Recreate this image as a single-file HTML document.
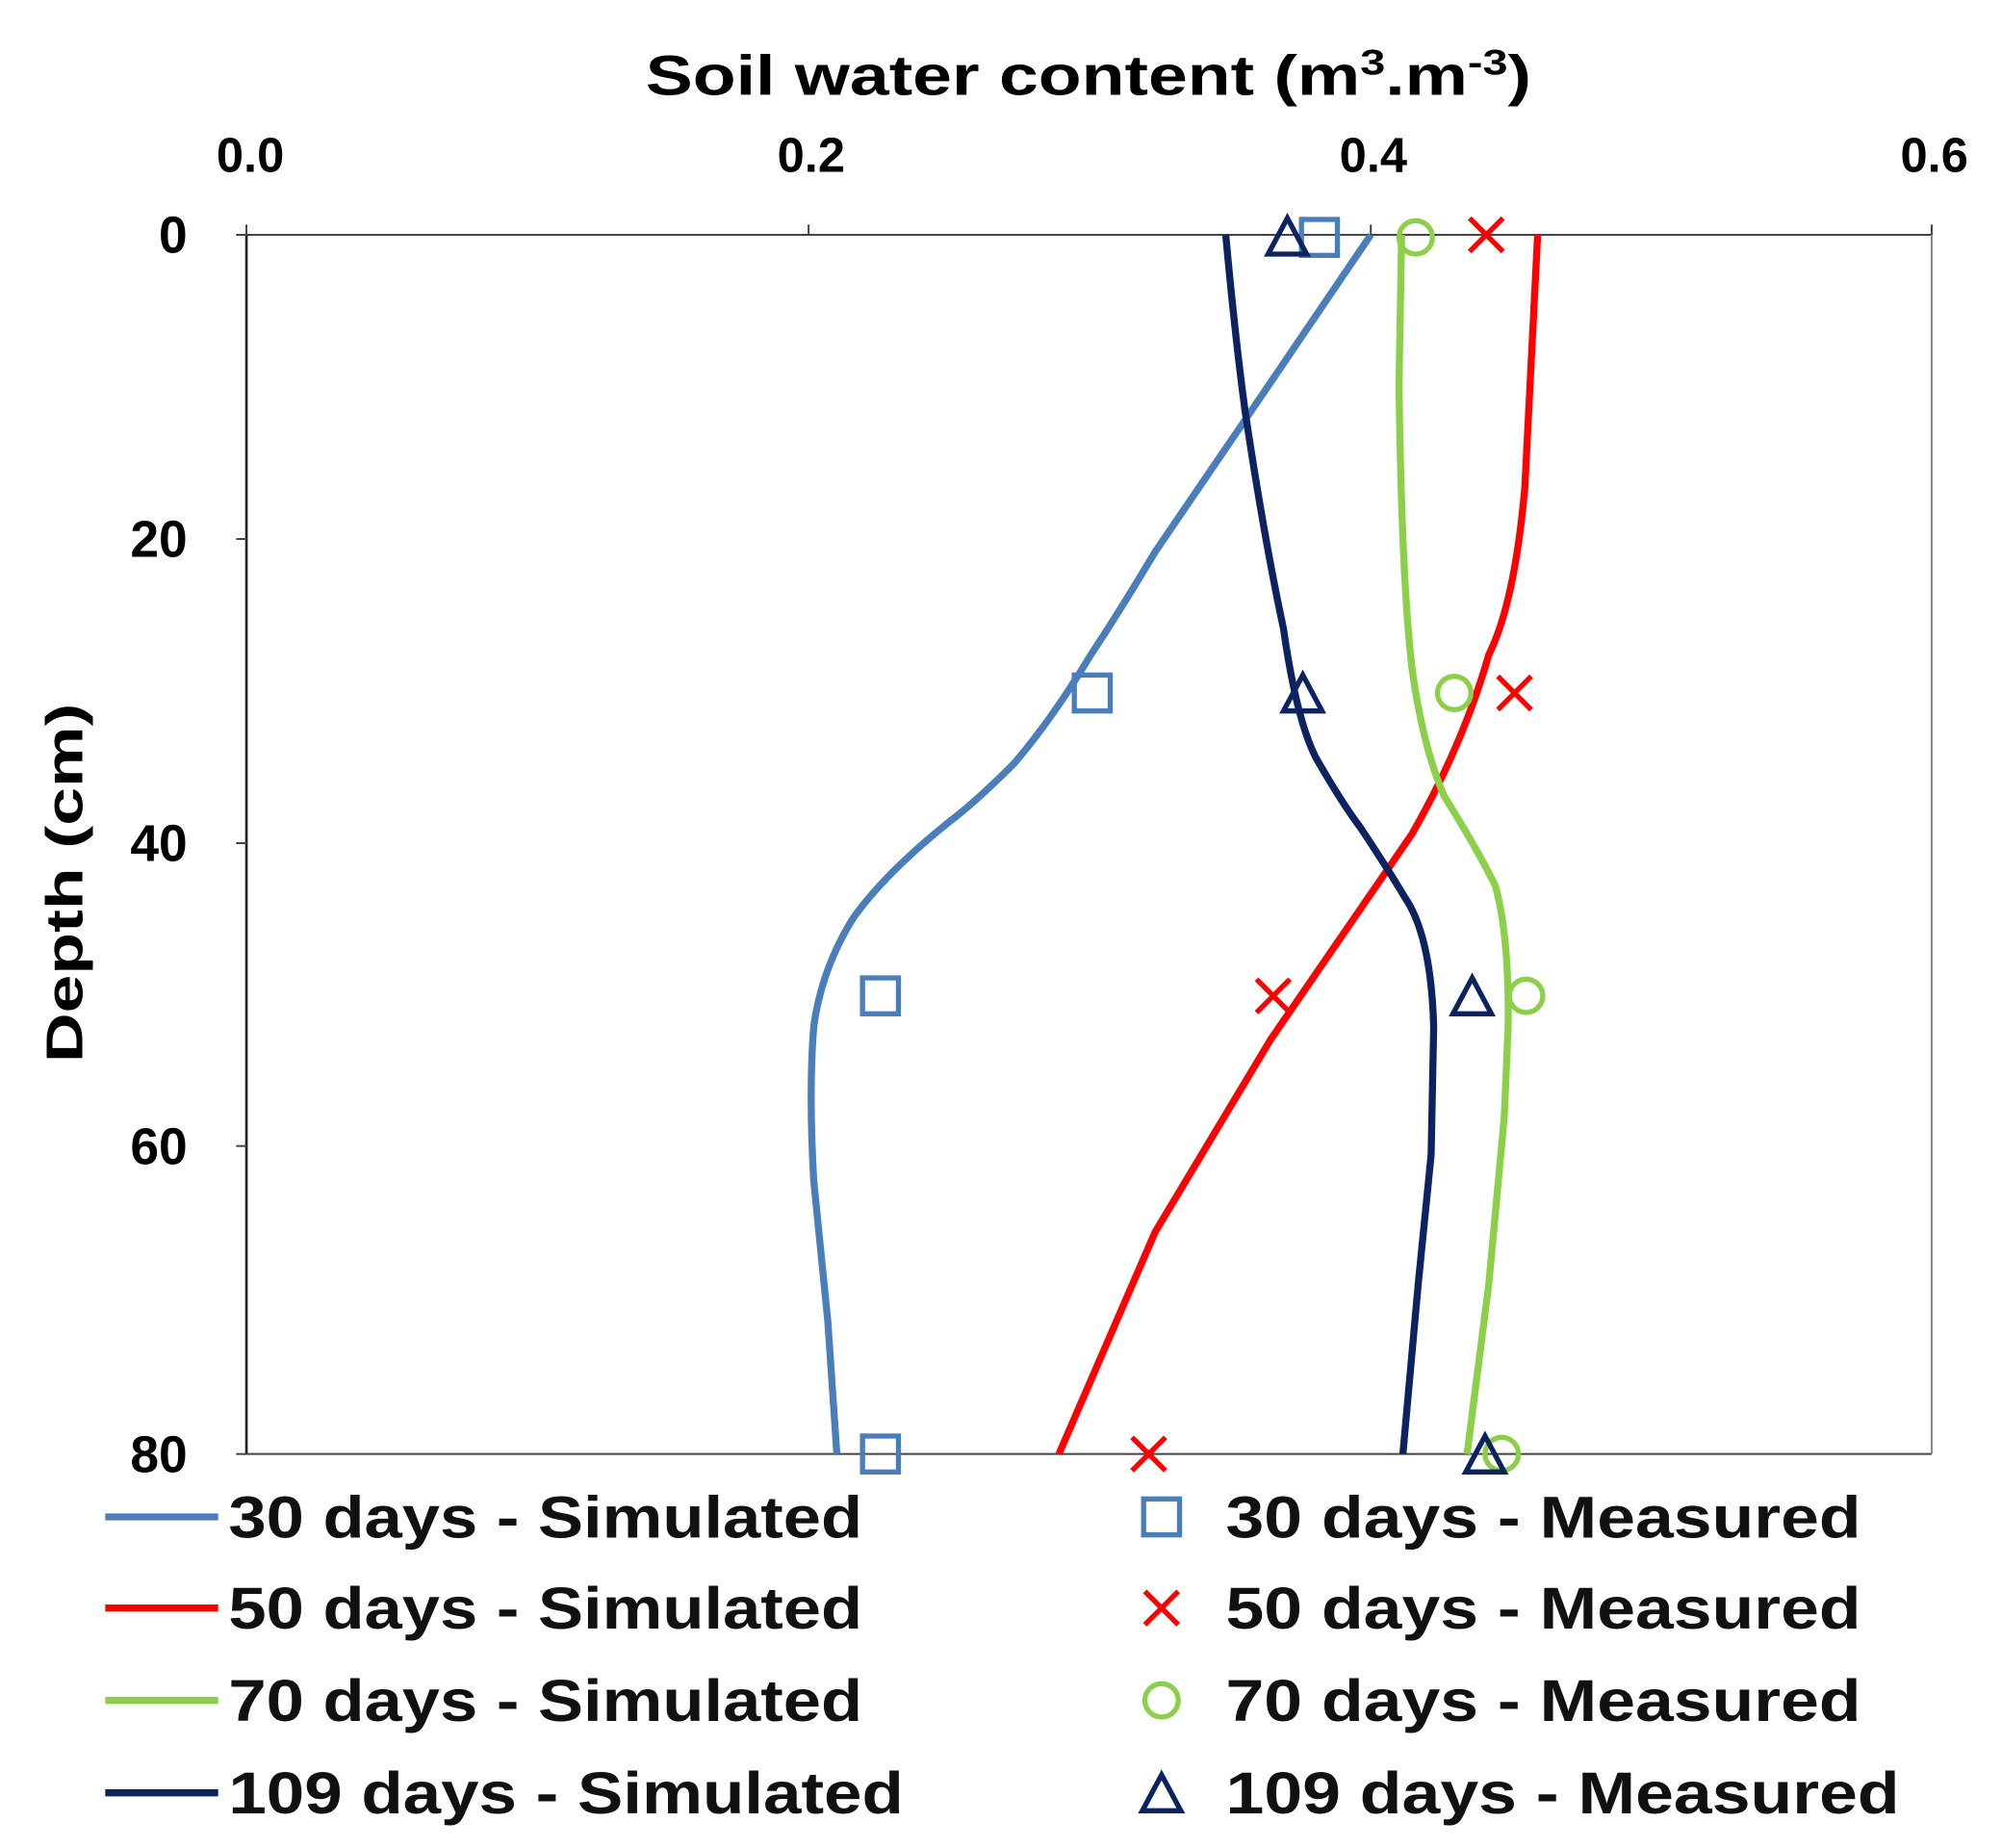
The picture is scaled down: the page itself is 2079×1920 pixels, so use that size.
<!DOCTYPE html>
<html><head><meta charset="utf-8"><style>html,body{margin:0;padding:0;background:#fff}svg{display:block}</style></head>
<body>
<svg width="2079" height="1920" viewBox="0 0 1559 1440" preserveAspectRatio="none" xmlns="http://www.w3.org/2000/svg" font-family="Liberation Sans, sans-serif">
<rect width="1559" height="1440" fill="#fff"/>
<text x="848" y="74" font-size="44" font-weight="bold" text-anchor="middle" textLength="690" lengthAdjust="spacingAndGlyphs">Soil water content (m<tspan font-size="28" dy="-16">3</tspan><tspan dy="16">.m</tspan><tspan font-size="28" dy="-16">-3</tspan><tspan dy="16">)</tspan></text>
<g font-size="38" font-weight="bold" text-anchor="middle">
<text x="195" y="134">0.0</text><text x="632" y="134">0.2</text><text x="1070" y="134">0.4</text><text x="1507" y="134">0.6</text>
</g>
<g font-size="40" font-weight="bold" text-anchor="end">
<text x="146" y="197">0</text><text x="146" y="434">20</text><text x="146" y="671">40</text><text x="146" y="907">60</text><text x="146" y="1147">80</text>
</g>
<text transform="translate(64,688) rotate(-90)" font-size="40" font-weight="bold" text-anchor="middle" textLength="280" lengthAdjust="spacingAndGlyphs">Depth (cm)</text>
<g stroke="#444" stroke-width="1.5" fill="none">
<line x1="192" y1="183" x2="1505" y2="183"/>
<line x1="192" y1="1133" x2="1505" y2="1133"/>
<line x1="192" y1="183" x2="192" y2="1133" stroke="#222" stroke-width="2"/>
<line x1="1505" y1="183" x2="1505" y2="1133" stroke="#888"/>
<line x1="192" y1="175" x2="192" y2="183"/><line x1="630" y1="175" x2="630" y2="183"/><line x1="1068" y1="175" x2="1068" y2="183"/><line x1="1505" y1="175" x2="1505" y2="183"/>
<line x1="184" y1="183" x2="192" y2="183"/><line x1="184" y1="420" x2="192" y2="420"/><line x1="184" y1="657" x2="192" y2="657"/><line x1="184" y1="893" x2="192" y2="893"/><line x1="184" y1="1133" x2="192" y2="1133"/>
</g>
<g fill="none" stroke-width="5.5" stroke-linejoin="round" stroke-linecap="butt">
<path stroke="#4a7ebb" d="M1068,183 L975,320 L900,430 Q870,480 850,510 Q820,560 790,595 Q760,625 740,640 Q690,680 665,715 Q640,755 634,800 Q630,850 634,920 L645,1030 L652,1133"/>
<path stroke="#ff0000" d="M1198,183 Q1192,300 1188,380 Q1180,470 1160,510 Q1140,580 1100,650 L990,810 L900,960 L825,1133"/>
<path stroke="#8cd04a" d="M1092,183 L1090,300 Q1092,450 1100,520 Q1108,580 1125,620 Q1150,660 1165,690 Q1176,730 1175,800 L1172,870 L1160,1000 L1143,1133"/>
<path stroke="#0d2260" d="M955,183 Q962,260 970,320 Q985,420 1000,490 Q1010,560 1025,590 Q1045,625 1060,645 Q1080,675 1095,700 Q1115,730 1117,800 L1115,900 L1105,1000 L1093,1133"/>
</g>
<g fill="none" stroke-width="4">
<g stroke="#4a7ebb">
<rect x="1014" y="171" width="28" height="28"/><rect x="837" y="526" width="28" height="28"/><rect x="672" y="762" width="28" height="28"/><rect x="672" y="1119" width="28" height="28"/>
</g>
<g stroke="#ff0000">
<path d="M1145,170 l26,26 M1171,170 l-26,26"/><path d="M1167,527 l26,26 M1193,527 l-26,26"/><path d="M979,763 l26,26 M1005,763 l-26,26"/><path d="M882,1120 l26,26 M908,1120 l-26,26"/>
</g>
<g stroke="#8cd04a">
<circle cx="1103" cy="185" r="13"/><circle cx="1133" cy="540" r="13"/><circle cx="1189" cy="776" r="13"/><circle cx="1170" cy="1133" r="13"/>
</g>
<g stroke="#0d2260">
<path d="M1003,170 l-15,28 h30 z"/><path d="M1015,526 l-15,28 h30 z"/><path d="M1147,762 l-15,28 h30 z"/><path d="M1157,1119 l-15,28 h30 z"/>
</g>
</g>
<g stroke-width="5.5">
<line x1="82" y1="1182" x2="170" y2="1182" stroke="#4a7ebb"/>
<line x1="82" y1="1253" x2="170" y2="1253" stroke="#ff0000"/>
<line x1="82" y1="1325" x2="170" y2="1325" stroke="#8cd04a"/>
<line x1="82" y1="1397" x2="170" y2="1397" stroke="#0d2260"/>
</g>
<g fill="none" stroke-width="4">
<rect x="891" y="1168" width="28" height="28" stroke="#4a7ebb"/>
<path d="M892,1240 l26,26 M918,1240 l-26,26" stroke="#ff0000"/>
<circle cx="905" cy="1325" r="13" stroke="#8cd04a"/>
<path d="M905,1383 l-15,28 h30 z" stroke="#0d2260"/>
</g>
<g font-size="46" font-weight="bold" fill="#111">
<text x="178" y="1198" textLength="494" lengthAdjust="spacingAndGlyphs">30 days - Simulated</text>
<text x="178" y="1269" textLength="494" lengthAdjust="spacingAndGlyphs">50 days - Simulated</text>
<text x="178" y="1341" textLength="494" lengthAdjust="spacingAndGlyphs">70 days - Simulated</text>
<text x="178" y="1413" textLength="526" lengthAdjust="spacingAndGlyphs">109 days - Simulated</text>
<text x="955" y="1198" textLength="495" lengthAdjust="spacingAndGlyphs">30 days - Measured</text>
<text x="955" y="1269" textLength="495" lengthAdjust="spacingAndGlyphs">50 days - Measured</text>
<text x="955" y="1341" textLength="495" lengthAdjust="spacingAndGlyphs">70 days - Measured</text>
<text x="955" y="1413" textLength="525" lengthAdjust="spacingAndGlyphs">109 days - Measured</text>
</g>
</svg>
</body></html>
